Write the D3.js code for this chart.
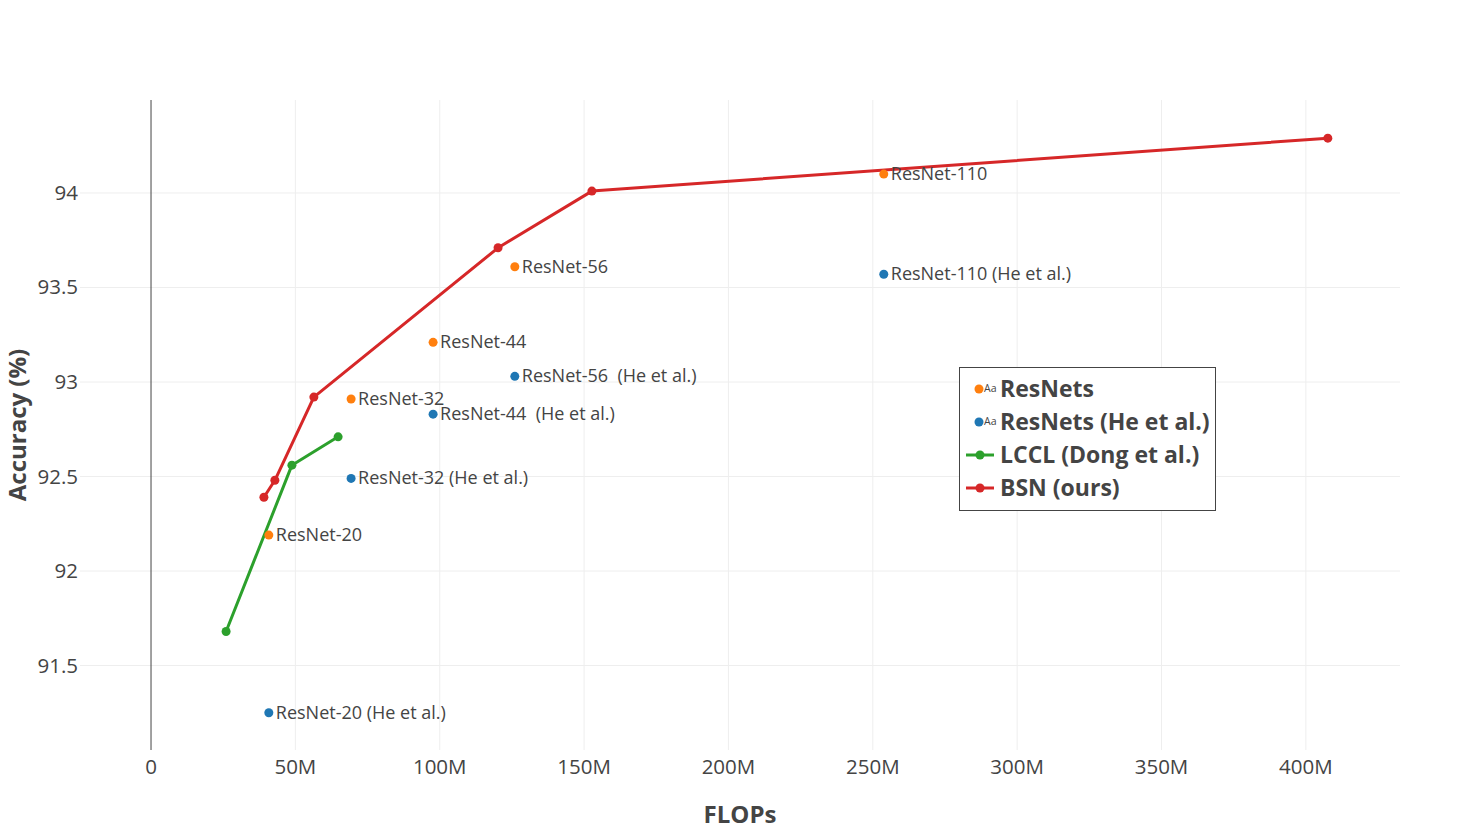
<!DOCTYPE html>
<html><head><meta charset="utf-8">
<script src="https://cdn.jsdelivr.net/npm/d3@7"></script>
<style>body{margin:0;background:#fff;} svg{display:block;}</style>
</head><body>
<svg id="c" width="1480" height="831"></svg>
<script>
// Data (FLOPs in millions, accuracy %)
const resnetNames = ["ResNet-20","ResNet-32","ResNet-44","ResNet-56","ResNet-110"];
const resnetFlops = [40.8, 69.3, 97.7, 126.0, 253.8];
const resnetAcc = [92.19, 92.91, 93.21, 93.61, 94.10];
const heNames = ["ResNet-20 (He et al.)","ResNet-32 (He et al.)","ResNet-44  (He et al.)","ResNet-56  (He et al.)","ResNet-110 (He et al.)"];
const heFlops = [40.8, 69.3, 97.7, 126.0, 253.8];
const heAcc = [91.25, 92.49, 92.83, 93.03, 93.57];
const lcclFlops = [26.0, 48.8, 64.8];
const lcclAcc = [91.68, 92.56, 92.71];
const bsnFlops = [39.1, 42.9, 56.4, 120.2, 152.7, 407.6];
const bsnAcc = [92.39, 92.48, 92.92, 93.71, 94.01, 94.29];
const xTicks = [0,50,100,150,200,250,300,350,400];
const xTickLabels = ["0","50M","100M","150M","200M","250M","300M","350M","400M"];
const yTicks = [91.5,92,92.5,93,93.5,94];
const yTickLabels = ["91.5","92","92.5","93","93.5","94"];
const legendNames = ["ResNets","ResNets (He et al.)","LCCL (Dong et al.)","BSN (ours)"];

const colors = {orange:"#ff7f0e", blue:"#1f77b4", green:"#2ca02c", red:"#d62728"};
const font = "'Open Sans', sans-serif";
const svg = d3.select("#c");
const L=80, R=1400, T=100, B=750;
const x = d3.scaleLinear().domain([-24.6, 432.6]).range([L,R]);
const y = d3.scaleLinear().domain([91.053, 94.492]).range([B,T]);

// grid
const g = svg.append("g");
g.selectAll(".vg").data(xTicks.filter(d=>d!==0)).join("line")
  .attr("x1",d=>x(d)).attr("x2",d=>x(d)).attr("y1",T).attr("y2",B)
  .attr("stroke","#eee").attr("stroke-width",1);
g.selectAll(".hg").data(yTicks).join("line")
  .attr("x1",L).attr("x2",R).attr("y1",d=>y(d)).attr("y2",d=>y(d))
  .attr("stroke","#eee").attr("stroke-width",1);
// zero line
g.append("line").attr("x1",x(0)).attr("x2",x(0)).attr("y1",T).attr("y2",B)
  .attr("stroke","#444").attr("stroke-width",1);

// tick labels
svg.selectAll(".xt").data(xTicks).join("text")
  .attr("x",d=>x(d)).attr("y",B+24).attr("text-anchor","middle")
  .attr("font-family",font).attr("font-size",20.5).attr("fill","#444")
  .text((d,i)=>xTickLabels[i]);
svg.selectAll(".yt").data(yTicks).join("text")
  .attr("x",L-2).attr("y",d=>y(d)+7).attr("text-anchor","end")
  .attr("font-family",font).attr("font-size",20.5).attr("fill","#444")
  .text((d,i)=>yTickLabels[i]);

// axis titles
svg.append("text").attr("x",(L+R)/2).attr("y",823).attr("text-anchor","middle")
  .attr("font-family",font).attr("font-weight","bold").attr("font-size",24).attr("fill","#444").text("FLOPs");
svg.append("text").attr("transform",`translate(26,${(T+B)/2}) rotate(-90)`).attr("text-anchor","middle")
  .attr("font-family",font).attr("font-weight","bold").attr("font-size",24).attr("fill","#444").text("Accuracy (%)");

// lines
const line = d3.line().x(d=>x(d[0])).y(d=>y(d[1]));
function drawLine(fl, acc, color){
  const pts = fl.map((f,i)=>[f,acc[i]]);
  svg.append("path").datum(pts).attr("d",line).attr("fill","none")
    .attr("stroke",color).attr("stroke-width",3).attr("stroke-linejoin","round");
  svg.selectAll(null).data(pts).join("circle").attr("cx",d=>x(d[0])).attr("cy",d=>y(d[1]))
    .attr("r",4.5).attr("fill",color);
}
drawLine(lcclFlops, lcclAcc, colors.green);
drawLine(bsnFlops, bsnAcc, colors.red);

function drawText(fl, acc, names, color){
  const pts = fl.map((f,i)=>[f,acc[i],names[i]]);
  svg.selectAll(null).data(pts).join("circle").attr("cx",d=>x(d[0])).attr("cy",d=>y(d[1]))
    .attr("r",4.5).attr("fill",color);
  svg.selectAll(null).data(pts).join("text").attr("x",d=>x(d[0])+7).attr("y",d=>y(d[1])+6)
    .attr("font-family",font).attr("font-size",18).attr("fill","#444")
    .attr("xml:space","preserve").style("white-space","pre").text(d=>d[2]);
}
drawText(resnetFlops, resnetAcc, resnetNames, colors.orange);
drawText(heFlops, heAcc, heNames, colors.blue);

// legend
const lg = svg.append("g");
lg.append("rect").attr("x",959.5).attr("y",367.5).attr("width",256).attr("height",143)
  .attr("fill","#fff").attr("stroke","#444").attr("stroke-width",1);
const legColors = [colors.orange, colors.blue, colors.green, colors.red];
legendNames.forEach((name,i)=>{
  const cy = 389 + i*33;
  if(i<2){
    lg.append("circle").attr("cx",979).attr("cy",cy).attr("r",4.5).attr("fill",legColors[i]);
    lg.append("text").attr("x",984).attr("y",cy+3).attr("font-family",font).attr("font-size",10.5)
      .attr("fill","#444").text("Aa");
  } else {
    lg.append("line").attr("x1",966).attr("x2",994).attr("y1",cy).attr("y2",cy)
      .attr("stroke",legColors[i]).attr("stroke-width",3);
    lg.append("circle").attr("cx",980).attr("cy",cy).attr("r",4.5).attr("fill",legColors[i]);
  }
  lg.append("text").attr("x",1000).attr("y",cy+8).attr("font-family",font).attr("font-weight","bold")
    .attr("font-size",23).attr("fill","#444").text(name);
});
</script>
</body></html>
